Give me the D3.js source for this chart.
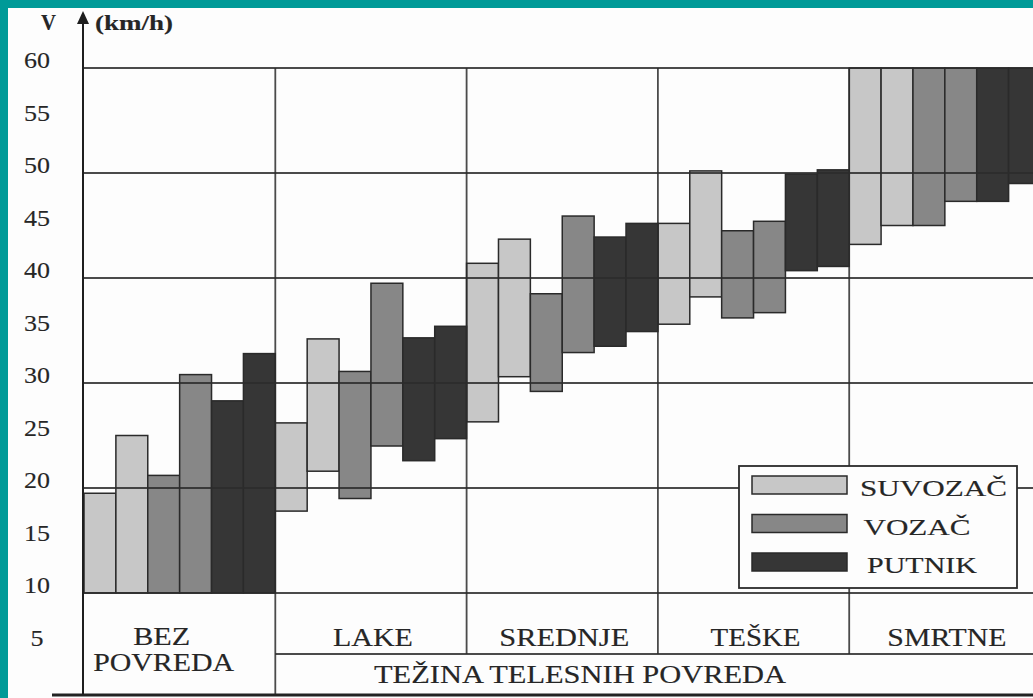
<!DOCTYPE html>
<html>
<head>
<meta charset="utf-8">
<script src="https://cdn.jsdelivr.net/npm/d3@7"></script>
<style>
  html, body { margin: 0; padding: 0; background: #fdfdfd; }
  svg { display: block; }
  text { font-family: "Liberation Serif", "Times New Roman", serif; fill: #262626; stroke: #262626; stroke-width: 0.15; }
</style>
</head>
<body>
<div id="chart"></div>
<script>
const W = 1033;
const H = 698;

// injury severity groups (x categories)
const groups = ["BEZ POVREDA", "LAKE", "SREDNJE", "TEŠKE", "SMRTNE"];
const seriesNames = ["SUVOZAČ", "VOZAČ", "PUTNIK"];

// floating bars [low, high] in km/h, two bars per series in each group
const suvozacA = [[10, 19.5], [17.8, 26.2], [26.3, 41.4], [35.6, 45.2], [43.2, 60]];
const suvozacB = [[10, 25.0], [21.6, 34.2], [30.6, 43.7], [38.2, 50.2], [45.0, 60]];
const vozacA = [[10, 21.2], [19.0, 31.1], [29.2, 38.5], [36.2, 44.5], [45.0, 60]];
const vozacB = [[10, 30.8], [24.0, 39.5], [32.9, 45.9], [36.7, 45.4], [47.3, 60]];
const putnikA = [[10, 28.3], [22.6, 34.3], [33.5, 43.9], [40.7, 49.9], [47.3, 60]];
const putnikB = [[10, 32.8], [24.7, 35.4], [34.9, 45.2], [41.1, 50.3], [49.0, 60]];

const yTicks = [5, 10, 15, 20, 25, 30, 35, 40, 45, 50, 55, 60];
const gridValues = [10, 20, 30, 40, 50, 60];

const colors = { "SUVOZAČ": "#c7c7c7", "VOZAČ": "#878787", "PUTNIK": "#363636" };

const slots = [
    { name: "SUVOZAČ", values: suvozacA },
    { name: "SUVOZAČ", values: suvozacB },
    { name: "VOZAČ", values: vozacA },
    { name: "VOZAČ", values: vozacB },
    { name: "PUTNIK", values: putnikA },
    { name: "PUTNIK", values: putnikB },
];

const svg = d3.select("#chart").append("svg").attr("width", W).attr("height", H);

const AXIS_X = 83;
const x0 = d3.scaleBand().domain(groups).range([84, 84 + 5 * 191.3]).padding(0);
const x1 = d3.scaleBand().domain(d3.range(slots.length)).range([0, x0.bandwidth()]).padding(0);
const y = d3.scaleLinear().domain([10, 60]).range([593, 68]);

const ROW2 = 654;
const BOTTOM = 695;

// bars
const bars = [];
slots.forEach((s, si) => {
    s.values.forEach((v, gi) => {
        bars.push({ group: groups[gi], slot: si, name: s.name, low: v[0], high: v[1] });
    });
});

svg.append("g")
    .selectAll("rect.bar")
    .data(bars)
    .join("rect")
    .attr("class", "bar")
    .attr("x", (d) => x0(d.group) + x1(d.slot))
    .attr("y", (d) => y(d.high))
    .attr("width", x1.bandwidth())
    .attr("height", (d) => y(d.low) - y(d.high))
    .attr("fill", (d) => colors[d.name])
    .attr("stroke", "#2a2a2a")
    .attr("stroke-width", 1.5);

// grid lines drawn over bars, like the printed figure
const grid = svg.append("g").attr("stroke", "#2b2b2b").attr("stroke-width", 1.8).attr("stroke-opacity", 0.85);
grid.selectAll("line.h")
    .data(gridValues)
    .join("line")
    .attr("class", "h")
    .attr("x1", AXIS_X)
    .attr("x2", W)
    .attr("y1", (d) => y(d))
    .attr("y2", (d) => y(d));

grid.selectAll("line.v")
    .data(groups.slice(1))
    .join("line")
    .attr("class", "v")
    .attr("x1", (d) => x0(d))
    .attr("x2", (d) => x0(d))
    .attr("y1", y(60))
    .attr("y2", (d, i) => (i === 0 ? BOTTOM : ROW2));

grid.append("line")
    .attr("x1", x0(groups[1])).attr("x2", W)
    .attr("y1", ROW2).attr("y2", ROW2);

svg.append("line")
    .attr("x1", 52).attr("x2", W)
    .attr("y1", BOTTOM).attr("y2", BOTTOM)
    .attr("stroke", "#222").attr("stroke-width", 3);

// y axis with arrow
svg.append("line")
    .attr("x1", AXIS_X).attr("x2", AXIS_X)
    .attr("y1", 20).attr("y2", BOTTOM)
    .attr("stroke", "#1e1e1e").attr("stroke-width", 2);
svg.append("path")
    .attr("d", `M${AXIS_X},11 L${AXIS_X - 6},24 L${AXIS_X + 6},24 Z`)
    .attr("fill", "#1e1e1e");

svg.append("text")
    .attr("x", 41).attr("y", 30)
    .attr("font-size", 23).attr("font-weight", "bold")
    .attr("textLength", 15).attr("lengthAdjust", "spacingAndGlyphs")
    .text("V");
svg.append("text")
    .attr("x", 95).attr("y", 30)
    .attr("font-size", 22).attr("font-weight", "bold")
    .attr("textLength", 78).attr("lengthAdjust", "spacingAndGlyphs")
    .text("(km/h)");

svg.append("g")
    .selectAll("text")
    .data(yTicks)
    .join("text")
    .attr("x", 37)
    .attr("y", (d) => y(d))
    .attr("text-anchor", "middle")
    .attr("font-size", 24)
    .attr("stroke-width", 0.4)
    .attr("textLength", (d) => String(d).length * 13)
    .attr("lengthAdjust", "spacingAndGlyphs")
    .text((d) => d);

// category labels
const labelWidths = { "LAKE": 80, "SREDNJE": 130, "TEŠKE": 90, "SMRTNE": 119 };
svg.append("g")
    .selectAll("text")
    .data(groups.slice(1))
    .join("text")
    .attr("x", (d) => x0(d) + x0.bandwidth() / 2 + 2)
    .attr("y", 646)
    .attr("text-anchor", "middle")
    .attr("font-size", 25)
    .attr("textLength", (d) => labelWidths[d])
    .attr("lengthAdjust", "spacingAndGlyphs")
    .text((d) => d);

const bezX = x0(groups[0]) + x0.bandwidth() / 2;
const bez = svg.append("text").attr("text-anchor", "middle").attr("font-size", 25);
bez.append("tspan").attr("x", bezX - 18).attr("y", 645)
    .attr("textLength", 57).attr("lengthAdjust", "spacingAndGlyphs").text("BEZ");
bez.append("tspan").attr("x", bezX - 16).attr("y", 671)
    .attr("textLength", 141).attr("lengthAdjust", "spacingAndGlyphs").text("POVREDA");

svg.append("text")
    .attr("x", 580).attr("y", 683)
    .attr("text-anchor", "middle")
    .attr("font-size", 25)
    .attr("textLength", 412).attr("lengthAdjust", "spacingAndGlyphs")
    .text("TEŽINA TELESNIH POVREDA");

// legend
const legend = svg.append("g");
legend.append("rect")
    .attr("x", 739).attr("y", 466).attr("width", 278).attr("height", 122)
    .attr("fill", "#fdfdfd").attr("stroke", "#2b2b2b").attr("stroke-width", 1.8);
const legendY = d3.scalePoint().domain(seriesNames).range([485, 562]);
const legendWidths = { "SUVOZAČ": 147, "VOZAČ": 107, "PUTNIK": 110 };
legend.selectAll("rect.sw")
    .data(seriesNames)
    .join("rect")
    .attr("class", "sw")
    .attr("x", 752).attr("y", (d) => legendY(d) - 9)
    .attr("width", 95).attr("height", 18)
    .attr("fill", (d) => colors[d])
    .attr("stroke", "#2a2a2a").attr("stroke-width", 1.5);
legend.selectAll("text")
    .data(seriesNames)
    .join("text")
    .attr("x", (d, i) => 860 + i * 3.5)
    .attr("y", (d) => legendY(d) + 11)
    .attr("font-size", 23)
    .attr("textLength", (d) => legendWidths[d])
    .attr("lengthAdjust", "spacingAndGlyphs")
    .text((d) => d);

// teal frame of the slide
svg.append("rect").attr("x", 0).attr("y", 0).attr("width", 8).attr("height", H).attr("fill", "#009a98");
svg.append("rect").attr("x", 0).attr("y", 0).attr("width", W).attr("height", 8).attr("fill", "#009a98");
</script>
</body>
</html>
